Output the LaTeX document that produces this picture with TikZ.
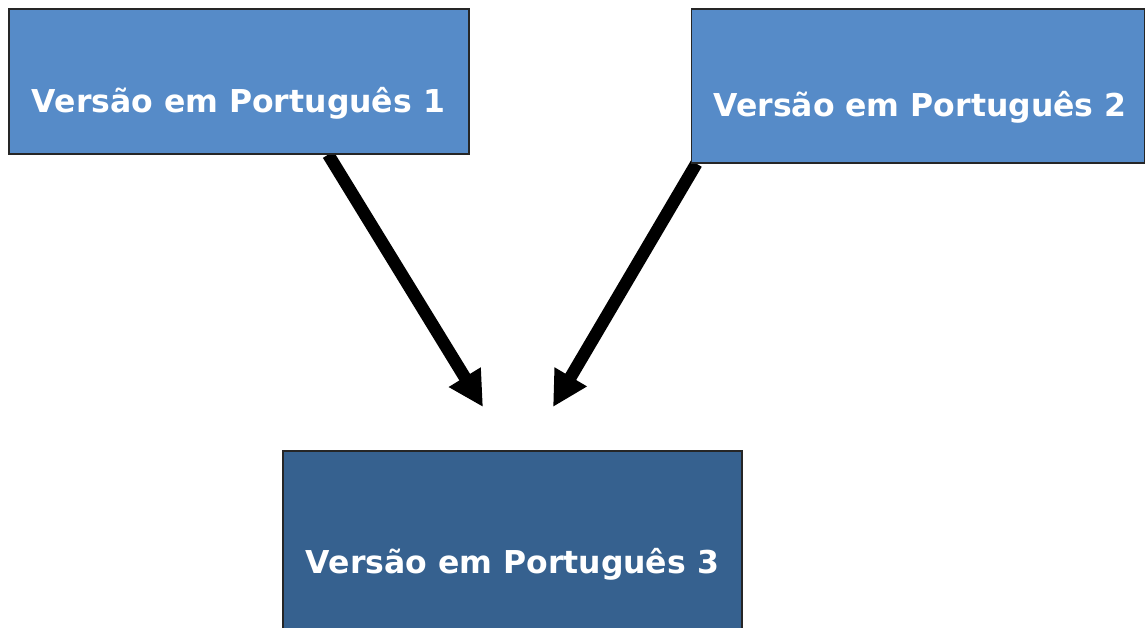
\documentclass[tikz,border=0pt]{standalone}
\usepackage{fontspec}
\setmainfont{DejaVu Sans}
\usepackage{tikz}
\usetikzlibrary{arrows.meta,calc,positioning,backgrounds}
\definecolor{lightversion}{HTML}{568BC8}
\definecolor{darkversion}{HTML}{36618F}
\tikzset{
  versionbox/.style = {draw=black!85, line width=1.2pt, inner sep=0pt},
  versiontext/.style= {text=white, inner sep=0pt, anchor=base,
                       font=\fontsize{31.5}{36}\selectfont\bfseries},
  mergearrow/.style = {-{Triangle[length=35pt,width=35pt]}, line width=12.5pt},
}

\begin{document}
\begin{tikzpicture}[x=1pt,y=-1pt]
  \useasboundingbox (0,0) rectangle (1145,628);
  \node[versionbox, fill=lightversion, minimum width=460pt, minimum height=145pt] (v1) at (239,81.5) {};
  \node[versionbox, fill=lightversion, minimum width=453.5pt, minimum height=154pt] (v2) at (918.25,86) {};
  \node[versionbox, fill=darkversion, minimum width=459pt, minimum height=200pt] (v3) at (512.5,551) {};
  \node[versiontext] (t1) at (238.5,113) {Versão em Português 1};
  \node[versiontext] (t2) at (920,117) {Versão em Português 2};
  \node[versiontext] (t3) at (512.5,573) {Versão em Português 3};
  \coordinate (tip1) at (483,407);
  \coordinate (tip2) at (553,407);
  \begin{scope}[on background layer]
    \draw[mergearrow] ($(v1.south west)!0.6935!(v1.south east)$) -- (tip1);
    \draw[mergearrow] ($(v2.south west)!0.012!(v2.south east)$) -- (tip2);
  \end{scope}
\end{tikzpicture}
\end{document}
